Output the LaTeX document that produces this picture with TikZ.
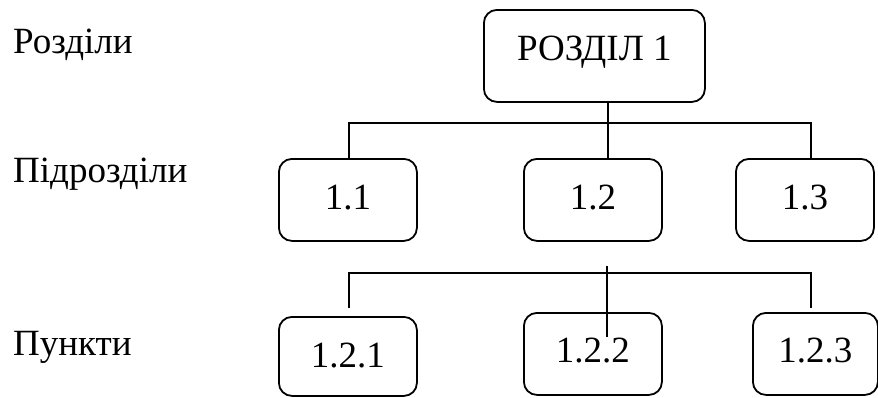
\documentclass[tikz,border=0pt]{standalone}
\usepackage{fontspec}
\setmainfont{Liberation Serif}
\begin{document}
\begin{tikzpicture}[x=1pt,y=-1pt,
  every node/.style={font=\fontsize{37}{40}\selectfont},
  box/.style={draw, line width=1.8pt, rounded corners=13pt, inner sep=0pt, anchor=north west, align=center},
  lbl/.style={anchor=base west, inner sep=0pt},
  conn/.style={line width=1.8pt}]
\useasboundingbox (0,0) rectangle (878,397);
% level labels
\node[lbl] (lr) at (13,53) {Розділи};
\node[lbl] (lp) at (13,182) {Підрозділи};
\node[lbl] (lk) at (13,355) {Пункти};
% boxes
\node[box, minimum width=221pt, text height=51pt, text depth=41pt] (R) at (483,9) {РОЗДІЛ 1};
\node[box, minimum width=138pt, text height=51pt, text depth=31pt] (b11) at (278,158) {1.1};
\node[box, minimum width=138pt, text height=51pt, text depth=31pt] (b12) at (523,158) {1.2};
\node[box, minimum width=138pt, text height=51pt, text depth=31pt] (b13) at (735,158) {1.3};
\node[box, minimum width=138pt, text height=51pt, text depth=28pt] (b121) at (278,316) {1.2.1};
\node[box, minimum width=138pt, text height=50pt, text depth=32pt] (b122) at (523,312) {1.2.2};
\node[box, minimum width=125pt, text height=50pt, text depth=32pt] (b123) at (752,312) {1.2.3};
% connector coordinates
\coordinate (c1) at (608,123);
\coordinate (h1l) at (349,123);
\coordinate (h1r) at (811,123);
\coordinate (h2l) at (349,273);
\coordinate (h2r) at (811,273);
\coordinate (e2l) at (349,308);
\coordinate (e2r) at (811,308);
\coordinate (t2s) at (607,266);
\coordinate (t2e) at (607,337);
% first level connectors
\draw[conn] (c1 |- R.south) -- (c1 |- b12.north);
\draw[conn] (h1l |- b11.north) -- (h1l) -- (h1r) -- (h1r |- b13.north);
% second level connectors
\draw[conn] (e2l) -- (h2l) -- (h2r) -- (e2r);
\draw[conn] (t2s) -- (t2e);
\end{tikzpicture}
\end{document}
